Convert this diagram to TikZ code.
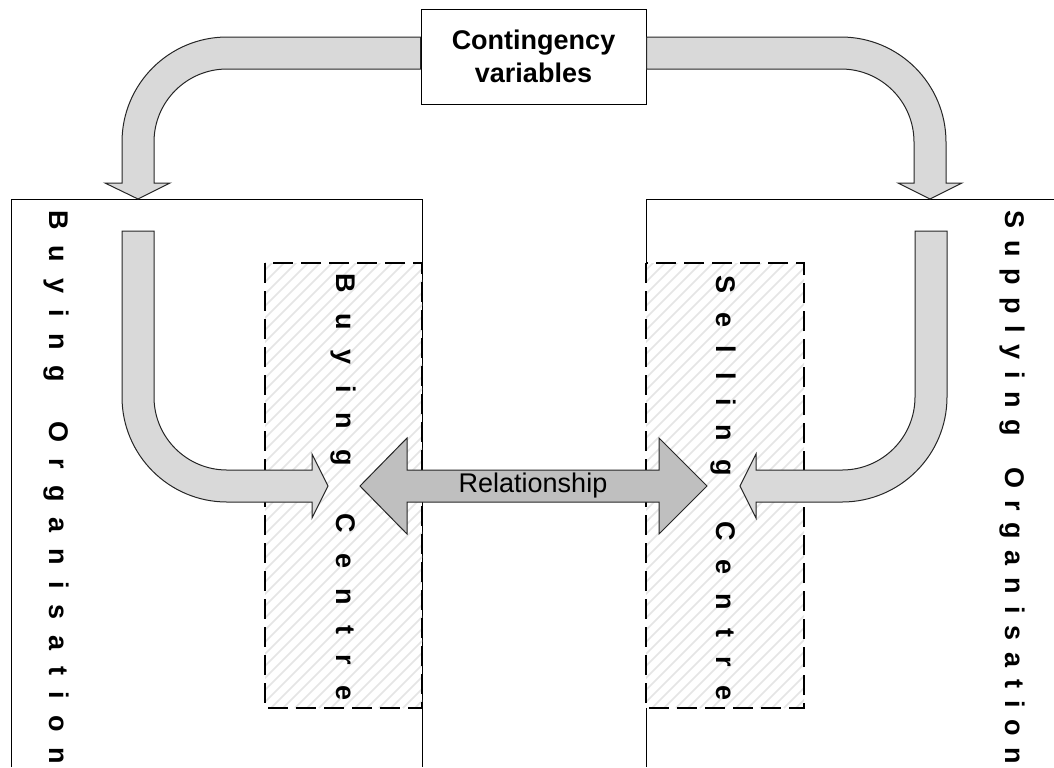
\documentclass[tikz,border=0pt]{standalone}
\usepackage{fontspec}
\setmainfont{Liberation Sans}

\def\sprdstop{}
\def\sprd#1{\sprdA#1\sprdstop}
\def\sprdA#1{#1\sprdB}
\def\sprdB#1{\ifx#1\sprdstop\else\hfil#1\expandafter\sprdB\fi}

\tikzset{
  bendarrow/.style={draw=black!85, fill=gray!30, line width=0.5pt},
  relarrow/.style={draw=black!85, fill=gray!50, line width=0.5pt},
  orgline/.style={draw=black, line width=0.5pt},
  centrebox/.style={draw=black, line width=0.6pt, dash pattern=on 10pt off 4pt},
  hatch/.style={draw=black!10, line width=0.8pt},
  vlabel/.style={rotate=-90, anchor=base west, inner sep=0pt, font=\bfseries\fontsize{13.5}{16}\selectfont},
}

\begin{document}
\begin{tikzpicture}[x=0.5pt, y=0.5pt]
\useasboundingbox (0,0) rectangle (1054,-767);

\draw[orgline] (11,-767) -- (11,-199) -- (422,-199) -- (422,-767);
\draw[orgline] (1054,-199) -- (646,-199) -- (646,-767);

\foreach \hx/\hw in {265/157, 646/158} {
  \fill[white] (\hx,-263) rectangle ++(\hw,-445);
  \begin{scope}
    \clip (\hx,-263) rectangle ++(\hw,-445);
    \foreach \k in {0,12,...,624}
      \draw[hatch] (\hx-450+\k,-708) -- ++(450,450);
  \end{scope}
  \draw[centrebox] (\hx,-263) rectangle ++(\hw,-445);
}

\node[vlabel] (borg) at (49,-210) {\hbox to 277pt{\sprd{Buying~Organisation}}};
\node[vlabel] (sorg) at (1005,-210) {\hbox to 277pt{\sprd{Supplying~Organisation}}};
\node[vlabel] (bctr) at (336,-273) {\hbox to 213.5pt{\sprd{Buying~Centre}}};
\node[vlabel] (sctr) at (716,-275) {\hbox to 212.5pt{\sprd{Selling~Centre}}};

\node[draw, fill=white, line width=0.5pt, minimum width=112.5pt, minimum height=47.5pt, align=center,
  font=\bfseries\fontsize{13.5}{16.5}\selectfont] (cv) at (533.5,-56.5) {Contingency\\variables};

\draw[bendarrow] (cv.west |- 0,-37) -- (227,-37) arc[start angle=90, end angle=180, radius=105]
  -- (122,-183) -- (105,-183) -- (138,-199) -- (170,-183) -- (154,-183) -- (154,-142)
  arc[start angle=180, end angle=90, radius=73] -- (cv.west |- 0,-69) -- cycle;
\draw[bendarrow] (cv.east |- 0,-37) -- (841,-37) arc[start angle=90, end angle=0, radius=105]
  -- (946,-183) -- (962,-183) -- (930,-199) -- (898,-183) -- (914,-183) -- (914,-142)
  arc[start angle=0, end angle=90, radius=73] -- (cv.east |- 0,-69) -- cycle;

\draw[bendarrow] (122,-231) -- (122,-397) arc[start angle=180, end angle=270, radius=105]
  -- (312,-502) -- (312,-518) -- (328,-486) -- (312,-454) -- (312,-470) -- (227,-470)
  arc[start angle=270, end angle=180, radius=73] -- (154,-231) -- cycle;
\draw[bendarrow] (947,-231) -- (947,-397) arc[start angle=0, end angle=-90, radius=105]
  -- (756,-502) -- (756,-518) -- (740,-486) -- (756,-454) -- (756,-470) -- (842,-470)
  arc[start angle=-90, end angle=0, radius=73] -- (915,-231) -- cycle;

\draw[relarrow] (360,-486) -- (407,-438) -- (407,-470) -- (659,-470) -- (659,-438) -- (707,-486)
  -- (659,-534) -- (659,-502) -- (407,-502) -- (407,-534) -- cycle;
\node[font=\fontsize{13.5}{16}\selectfont] (rel) at (533,-486) {Relationship};

\end{tikzpicture}
\end{document}
